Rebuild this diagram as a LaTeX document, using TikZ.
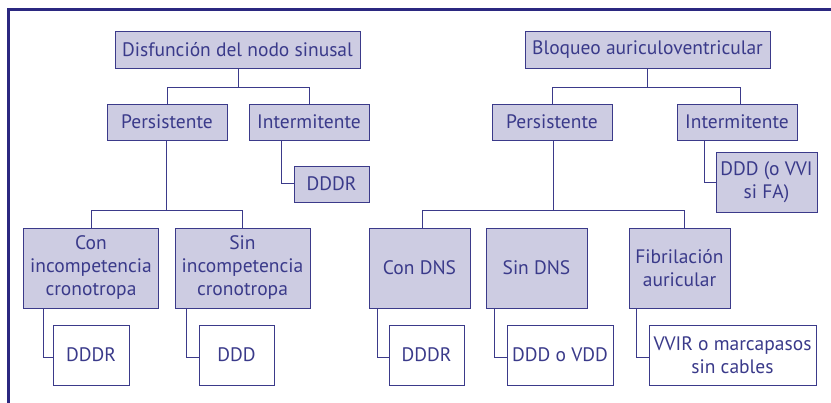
\documentclass[tikz,border=0pt]{standalone}
\usepackage{fontspec}
\setmainfont{PT Sans}
\definecolor{navy}{HTML}{2B2880}
\definecolor{bord}{HTML}{3B3A8A}
\definecolor{txt}{HTML}{3A3A8A}
\definecolor{lav}{HTML}{CDCCE2}
\begin{document}
\begin{tikzpicture}[x=1pt,y=-1pt,
  box/.style={draw=bord,line width=0.9pt,text=txt,inner sep=0pt,align=center,
    font=\fontsize{19.5}{23}\selectfont},
  fbox/.style={box,fill=lav},
  wbox/.style={box,fill=white},
  conn/.style={draw=bord,line width=1pt}]
\useasboundingbox (0,0) rectangle (831,403);
\draw[navy,line width=2.6pt] (8.3,403) -- (8.3,9.5) -- (831,9.5);
% left tree
\node[fbox,minimum width=245pt,minimum height=37pt] (dns) at (237.5,49.5) {Disfunción del nodo sinusal};
\node[fbox,minimum width=120pt,minimum height=36pt] (dnsP) at (167,122) {Persistente};
\node[fbox,minimum width=120pt,minimum height=36pt] (dnsI) at (309,122) {Intermitente};
\node[fbox,minimum width=75pt,minimum height=36pt] (dnsIc) at (331.5,184) {DDDR};
\node[fbox,minimum width=135pt,minimum height=80pt] (conI) at (91,268) {Con\\incompetencia\\cronotropa};
\node[fbox,minimum width=135pt,minimum height=80pt] (sinI) at (242.5,268) {Sin\\incompetencia\\cronotropa};
\node[wbox,minimum width=76pt,minimum height=60pt] (conIc) at (91,355) {DDDR};
\node[wbox,minimum width=75pt,minimum height=60pt] (sinIc) at (236.5,355) {DDD};
% right tree
\node[fbox,minimum width=245pt,minimum height=37pt] (bav) at (647.5,49.5) {Bloqueo auriculoventricular};
\node[fbox,minimum width=120pt,minimum height=36pt] (bavP) at (552,122) {Persistente};
\node[fbox,minimum width=120pt,minimum height=36pt] (bavI) at (737,122) {Intermitente};
\node[fbox,minimum width=101pt,minimum height=60pt] (bavIc) at (766.5,182) {DDD (o VVI\\si FA)};
\node[fbox,minimum width=101pt,minimum height=80pt] (conD) at (419.5,268) {Con DNS};
\node[fbox,minimum width=101pt,minimum height=80pt] (sinD) at (536.5,268) {Sin DNS};
\node[fbox,minimum width=101pt,minimum height=80pt] (fib) at (679.5,268) {Fibrilación\\auricular};
\node[wbox,minimum width=75pt,minimum height=60pt] (conDc) at (426.5,355) {DDDR};
\node[wbox,minimum width=106pt,minimum height=60pt] (sinDc) at (560,355) {DDD o VDD};
\node[wbox,minimum width=167pt,minimum height=60pt] (fibc) at (732.5,355) {VVIR o marcapasos\\sin cables};
% connectors left
\draw[conn] ([xshift=0.5pt]dns.south) -- ++(0,19) coordinate (j1);
\draw[conn] (j1) -| (dnsP.north);
\draw[conn] (j1) -| (dnsI.north);
\draw[conn] ([xshift=-1pt]dnsP.south) -- ++(0,70) coordinate (j2);
\draw[conn] (j2) -| (conI.north);
\draw[conn] (j2) -| (sinI.north);
\draw[conn] ([xshift=33pt]dnsI.south west) |- (dnsIc.west);
\draw[conn] ([xshift=20pt]conI.south west) |- ([yshift=-3pt]conIc.west);
\draw[conn] ([xshift=12pt]sinI.south west) |- ([yshift=-3pt]sinIc.west);
% connectors right
\draw[conn] ([xshift=-0.5pt]bav.south) -- ++(0,19) coordinate (j3);
\draw[conn] (j3) -| (bavP.north);
\draw[conn] (j3) -| ([xshift=3pt]bavI.north);
\draw[conn] ([xshift=1pt]bavP.south) -- ++(0,70) coordinate (j4);
\draw[conn] (j4) -| ([xshift=2.5pt]conD.north);
\draw[conn] (j4) -| ([xshift=4.5pt]fib.north);
\draw[conn] ([xshift=28pt]bavI.south west) |- ([yshift=-1pt]bavIc.west);
\draw[conn] ([xshift=9pt]conD.south west) |- ([yshift=-3pt]conDc.west);
\draw[conn] ([xshift=9pt]sinD.south west) |- ([yshift=-3pt]sinDc.west);
\draw[conn] ([xshift=8pt]fib.south west) |- ([yshift=-3pt]fibc.west);
\end{tikzpicture}
\end{document}
